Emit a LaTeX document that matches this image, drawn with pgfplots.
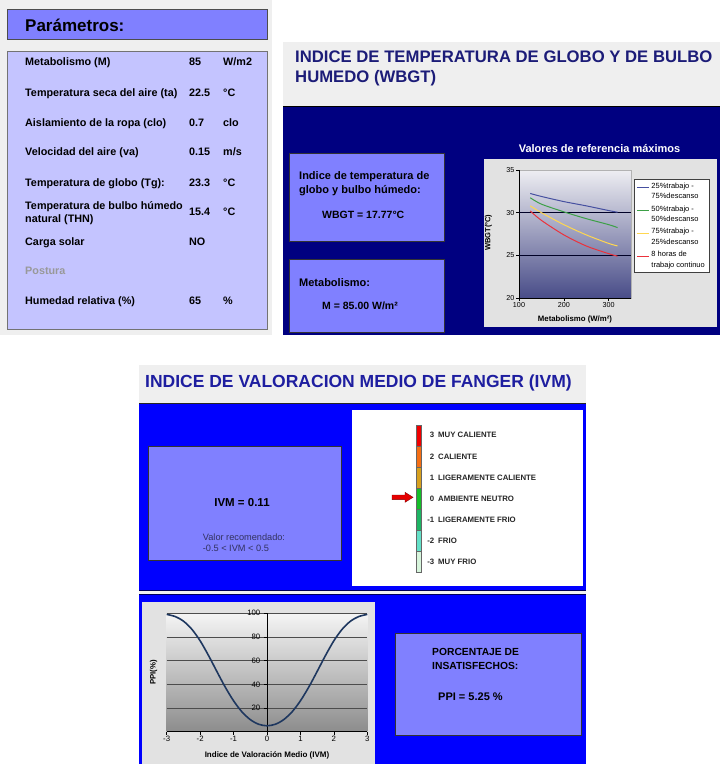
\documentclass[border=0pt]{standalone}
\usepackage{fontspec}
\setmainfont{Liberation Sans}
\usepackage{pgfplots}
\pgfplotsset{compat=1.18}
\definecolor{pgray}{RGB}{239,239,239}
\definecolor{peri}{RGB}{128,128,255}
\definecolor{lav}{RGB}{196,196,255}
\definecolor{navyc}{RGB}{0,0,128}
\definecolor{bblue}{RGB}{0,0,255}
\definecolor{tit1}{RGB}{28,28,120}
\definecolor{tit2}{RGB}{30,30,160}
\definecolor{chartbg}{RGB}{226,226,226}
\definecolor{c25}{RGB}{70,80,160}
\definecolor{c50}{RGB}{60,160,70}
\definecolor{c75}{RGB}{255,215,80}
\definecolor{c8h}{RGB}{235,50,60}
\definecolor{ppicurve}{RGB}{30,55,95}
\definecolor{wtop}{RGB}{238,238,242}
\definecolor{wbot}{RGB}{72,76,136}
\definecolor{s3}{RGB}{240,0,0}
\definecolor{s2}{RGB}{245,110,20}
\definecolor{s1}{RGB}{215,160,30}
\definecolor{s0}{RGB}{20,190,40}
\definecolor{sm1}{RGB}{30,180,100}
\definecolor{sm2}{RGB}{100,225,200}
\definecolor{sm3}{RGB}{215,245,220}
\newcommand{\fs}[1]{\fontsize{#1}{#1}\selectfont}
\begin{document}
\begin{tikzpicture}
\begin{scope}[x=1pt,y=-1pt]
\fill[white] (0,0) rectangle (720,764);
% ---------- Panel 1: Parametros
\fill[pgray] (0,0) rectangle (272,335);
\filldraw[fill=peri,draw=black!70,line width=0.8pt] (7,9.5) rectangle (267,39);
\node[anchor=base west,inner sep=0pt,font=\bfseries\fs{17}] at (25,31) {Parámetros:};
\filldraw[fill=lav,draw=black!55,line width=0.8pt] (7,51) rectangle (267,329);
\begin{scope}[every node/.style={anchor=base west,inner sep=0pt,font=\bfseries\fs{10.8}}]
\node at (25,65) {Metabolismo (M)}; \node at (189,65) {85}; \node at (223,65) {W/m2};
\node at (25,96.3) {Temperatura seca del aire (ta)}; \node at (189,96.3) {22.5}; \node at (223,96.3) {°C};
\node at (25,126.3) {Aislamiento de la ropa (clo)}; \node at (189,126.3) {0.7}; \node at (223,126.3) {clo};
\node at (25,155.7) {Velocidad del aire (va)}; \node at (189,155.7) {0.15}; \node at (223,155.7) {m/s};
\node at (25,186.3) {Temperatura de globo (Tg):}; \node at (189,186.3) {23.3}; \node at (223,186.3) {°C};
\node at (25,209.7) {Temperatura de bulbo húmedo}; \node at (25,222.3) {natural (THN)};
\node at (189,215.7) {15.4}; \node at (223,215.7) {°C};
\node at (25,245) {Carga solar}; \node at (189,245) {NO};
\node[text=black!40] at (25,274.7) {Postura};
\node at (25,304) {Humedad relativa (\%)}; \node at (189,304) {65}; \node at (223,304) {\%};
\end{scope}
% ---------- Panel 2: WBGT
\fill[pgray] (283,42) rectangle (720,106);
\node[anchor=base west,inner sep=0pt,font=\bfseries\fs{16.7},text=tit1] at (295,62.7) {INDICE DE TEMPERATURA DE GLOBO Y DE BULBO};
\node[anchor=base west,inner sep=0pt,font=\bfseries\fs{16.7},text=tit1] at (295,82.7) {HUMEDO (WBGT)};
\fill[navyc] (283,106) rectangle (720,335);
\draw[black,line width=1pt] (283,106.5)--(720,106.5);
\filldraw[fill=peri,draw=black!80,line width=0.8pt] (289,153) rectangle (444,241);
\filldraw[fill=peri,draw=black!80,line width=0.8pt] (289,259) rectangle (444,332);
\begin{scope}[every node/.style={anchor=base west,inner sep=0pt,font=\bfseries\fs{11}}]
\node at (299,179.7) {Indice de temperatura de};
\node at (299,193.3) {globo y bulbo húmedo:};
\node[font=\bfseries\fs{10.5}] at (322,218.3) {WBGT = 17.77°C};
\node at (299,286.3) {Metabolismo:};
\node[font=\bfseries\fs{10.5}] at (322,309) {M = 85.00 W/m²};
\end{scope}
\fill[chartbg] (484,159) rectangle (717,327);
\node[font=\bfseries\fs{11},text=white] at (599.5,148.3) {Valores de referencia máximos};
% ---------- Panel 3: IVM
\fill[pgray] (139,365) rectangle (586,403);
\node[anchor=base west,inner sep=0pt,font=\bfseries\fs{17.5},text=tit2] at (145,387) {INDICE DE VALORACION MEDIO DE FANGER (IVM)};
\fill[bblue] (139,403) rectangle (586,590);
\draw[black!85,line width=1.2pt] (139,403.6)--(586,403.6);
\filldraw[fill=peri,draw=black!80,line width=0.8pt] (148.3,446.7) rectangle (341,560);
\node[font=\bfseries\fs{11.5}] at (242,502.7) {IVM = 0.11};
\node[anchor=base west,inner sep=0pt,font=\fs{9.2},text={rgb,255:red,50;green,50;blue,95}] at (202.7,540.6) {Valor recomendado:};
\node[anchor=base west,inner sep=0pt,font=\fs{9.2},text={rgb,255:red,50;green,50;blue,95}] at (202.7,551.6) {-0.5 < IVM < 0.5};
\fill[white] (352,409.5) rectangle (583,586);
% scale bar
\foreach \ya/\yb/\c in {425/446.7/s3,446.7/467.3/s2,467.3/488.3/s1,488.3/509.3/s0,509.3/530.7/sm1,530.7/551.7/sm2,551.7/572.7/sm3}
  \filldraw[fill=\c,draw=black!60,line width=0.5pt] (416.7,\ya) rectangle (421.7,\yb);
\filldraw[fill=red!90!black,draw=red!50!black,line width=0.4pt]
  (392,495) -- (405,495) -- (405,492.3) -- (413,497.3) -- (405,502.3) -- (405,499.6) -- (392,499.6) -- cycle;
\begin{scope}[every node/.style={inner sep=0pt,font=\bfseries\fs{7.8},text=black!85}]
\foreach \y/\n/\t in {435/3/MUY CALIENTE,456.7/2/CALIENTE,477.3/1/LIGERAMENTE CALIENTE,498.3/0/AMBIENTE NEUTRO,519.3/-1/LIGERAMENTE FRIO,540.7/-2/FRIO,561.7/-3/MUY FRIO}{
  \node[anchor=base east] at (434.5,\y+2.8) {\n};
  \node[anchor=base west] at (438,\y+2.8) {\t};
}
\end{scope}
% ---------- Panel 4: PPI
\fill[pgray!80!white] (139,590) rectangle (586,594);
\draw[navyc!70!black,line width=0.8pt] (139,590)--(586,590);
\fill[bblue] (139,594) rectangle (586,764);
\draw[navyc!70!black,line width=1pt] (139,594.5)--(586,594.5);
\fill[chartbg] (142,602) rectangle (375,764);
\filldraw[fill=peri,draw=black!80,line width=0.8pt] (395,633) rectangle (581,735);
\begin{scope}[every node/.style={anchor=base west,inner sep=0pt,font=\bfseries\fs{10.3}}]
\node at (432,655.6) {PORCENTAJE DE};
\node at (432,669.6) {INSATISFECHOS:};
\node[font=\bfseries\fs{11}] at (438,700.5) {PPI = 5.25 \%};
\end{scope}
\end{scope}
% ===== WBGT chart
\begin{axis}[
  at={(519pt,-298pt)}, anchor=south west,
  scale only axis, width=112pt, height=128pt,
  xmin=100, xmax=350, ymin=20, ymax=35,
  xtick={100,200,300}, ytick={20,35}, extra y ticks={25,30},
  extra y tick style={grid=major},
  major grid style={draw=black!85!blue, line width=1pt},
  axis lines*=left, tick align=outside, major tick length=3pt,
  axis line style={black, line width=0.6pt},
  tick style={black, line width=0.6pt},
  ticklabel style={font=\fs{7.2}, inner sep=1.5pt},
  /pgf/number format/assume math mode=true,
  xlabel={Metabolismo (W/m²)}, ylabel={WBGT(°C)},
  every axis x label/.style={at={(axis description cs:0.5,-0.167)},anchor=center,font=\bfseries\fs{7.8}},
  every axis y label/.style={at={(axis description cs:-0.274,0.51)},anchor=center,rotate=90,font=\bfseries\fs{7.5}},
  axis background/.style={shade, top color=wtop, bottom color=wbot, draw=gray!60},
  legend style={at={(axis description cs:1.027,0.93)}, anchor=north west,
    font=\fontsize{7.5}{10.5}\selectfont, draw=black!75, fill=white,
    inner xsep=2pt, inner ysep=1.5pt, row sep=1.5pt,
    cells={anchor=west, align=left}},
  legend image code/.code={\draw[#1,line width=1.2pt] (0pt,4pt)--(12pt,4pt);},
]
\addplot[c25, line width=1pt, smooth] coordinates {(125,32.25) (150,31.9) (200,31.3) (250,30.8) (300,30.25) (320,30.05)};
\addlegendentry{25\%trabajo -\\75\%descanso}
\addplot[c50, line width=1pt, smooth] coordinates {(125,31.75) (150,31.0) (200,30.1) (250,29.3) (300,28.6) (320,28.25)};
\addlegendentry{50\%trabajo -\\50\%descanso}
\addplot[c75, line width=1pt, smooth] coordinates {(125,30.8) (150,30.0) (200,28.6) (250,27.4) (300,26.4) (320,26.1)};
\addlegendentry{75\%trabajo -\\25\%descanso}
\addplot[c8h, line width=1pt, smooth] coordinates {(125,30.2) (150,29.1) (200,27.4) (250,26.1) (300,25.2) (320,24.9)};
\addlegendentry{8 horas de\\trabajo continuo}
\end{axis}
% ===== PPI chart
\begin{axis}[
  at={(166.7pt,-731.7pt)}, anchor=south west,
  scale only axis, width=200.6pt, height=118.4pt,
  xmin=-3, xmax=3, ymin=0, ymax=100,
  xtick={-3,-2,-1,0,1,2,3}, ytick={0,20,40,60,80,100},
  axis x line*=bottom, axis y line*=center,
  ymajorgrids, major grid style={draw=black!70, line width=0.7pt},
  tick align=outside, major tick length=3pt,
  axis line style={black, line width=0.6pt},
  tick style={black, line width=0.6pt},
  ticklabel style={font=\fs{7.8}, inner sep=1.5pt},
  yticklabel style={anchor=east, xshift=-2pt},
  /pgf/number format/assume math mode=true,
  xlabel={Indice de Valoración Medio (IVM)}, ylabel={PPI(\%)},
  every axis x label/.style={at={(axis description cs:0.5,-0.203)},anchor=center,font=\bfseries\fs{8}},
  every axis y label/.style={at={(axis description cs:-0.065,0.5)},anchor=center,rotate=90,font=\bfseries\fs{7.8}},
  axis background/.style={shade, top color=white!96!black, bottom color=black!45},
]
\addplot[ppicurve, line width=1.6pt, smooth] coordinates {
(-3,99.1) (-2.75,97.3) (-2.5,93.4) (-2.25,86.6) (-2,76.8) (-1.75,64.4) (-1.5,50.9) (-1.25,37.7) (-1,26.1) (-0.75,16.8) (-0.5,10.2) (-0.25,6.3) (0,5.0)
(0.25,6.3) (0.5,10.2) (0.75,16.8) (1,26.1) (1.25,37.7) (1.5,50.9) (1.75,64.4) (2,76.8) (2.25,86.6) (2.5,93.4) (2.75,97.3) (3,99.1)};
\end{axis}
\end{tikzpicture}
\end{document}
